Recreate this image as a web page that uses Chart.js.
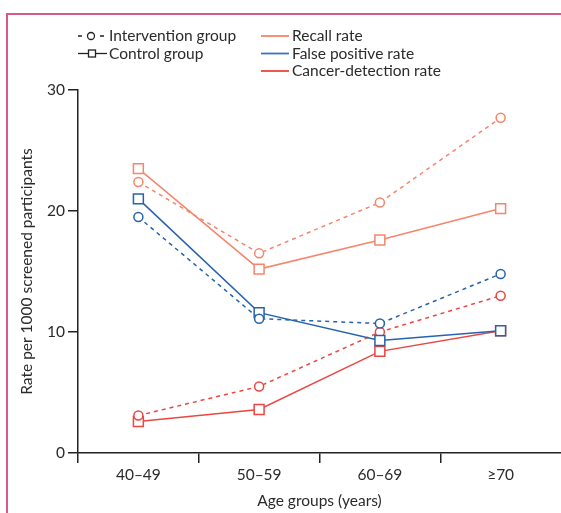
<!DOCTYPE html>
<html>
<head>
<meta charset="utf-8">
<script src="https://cdn.jsdelivr.net/npm/chart.js@4.4.1/dist/chart.umd.min.js"></script>
<style>
html,body{margin:0;padding:0;background:#fff;overflow:hidden;}
#wrap{position:relative;width:561px;height:513px;}
</style>
</head>
<body>
<div id="wrap"><canvas id="c" width="561" height="513"></canvas></div>
<script>
const categories = ['40–49', '50–59', '60–69', '≥70'];
const recallIntervention = [22.4, 16.5, 20.7, 27.7];
const recallControl = [23.5, 15.2, 17.6, 20.2];
const fpIntervention = [19.5, 11.1, 10.7, 14.8];
const fpControl = [21.0, 11.6, 9.3, 10.1];
const cdIntervention = [3.1, 5.5, 10.0, 13.0];
const cdControl = [2.6, 3.6, 8.4, 10.1];
const yTicks = [0, 10, 20, 30];
const groupLabels = ['Intervention group', 'Control group'];
const rateLabels = ['Recall rate', 'False positive rate', 'Cancer-detection rate'];
const xTitle = 'Age groups (years)';
const yTitle = 'Rate per 1000 screened participants';

const C_RECALL = '#f5856b';
const C_FP = '#2563ad';
const C_CD = '#eb4640';
const TXT = '#2b2b2b';
const FONT = 'Lato';

function ds(label, data, color, intervention) {
  return {
    label, data,
    borderColor: color,
    backgroundColor: '#ffffff',
    borderWidth: 1.5,
    borderDash: intervention ? [4, 4] : [],
    pointStyle: intervention ? 'circle' : 'rect',
    pointRadius: intervention ? 4.5 : 7,
    pointHoverRadius: intervention ? 4.5 : 7,
    pointBorderWidth: 1.5,
    pointBorderColor: color,
    pointBackgroundColor: '#ffffff',
    tension: 0,
    clip: false
  };
}

const frameLegend = {
  id: 'frameLegend',
  beforeDraw(chart) {
    const ctx = chart.ctx;
    ctx.save();
    ctx.fillStyle = '#fff';
    ctx.fillRect(0, 0, chart.width, chart.height);
    ctx.fillStyle = '#d8587f';
    ctx.fillRect(6, 13, chart.width - 6, 2);
    ctx.fillRect(6, 13, 2, chart.height - 13);
    ctx.restore();
  },
  afterDraw(chart) {
    const ctx = chart.ctx;
    ctx.save();
    ctx.font = '15.5px ' + FONT;
    ctx.fillStyle = TXT;
    ctx.textBaseline = 'middle';
    ctx.textAlign = 'left';
    ctx.strokeStyle = '#222';
    ctx.lineWidth = 1.3;
    ctx.beginPath();
    ctx.moveTo(78, 36); ctx.lineTo(82, 36);
    ctx.moveTo(100, 36); ctx.lineTo(104, 36);
    ctx.stroke();
    ctx.beginPath();
    ctx.arc(91, 36, 3.5, 0, Math.PI * 2);
    ctx.fillStyle = '#fff'; ctx.fill(); ctx.stroke();
    ctx.beginPath();
    ctx.moveTo(78, 53.5); ctx.lineTo(107, 53.5);
    ctx.stroke();
    ctx.fillStyle = '#fff';
    ctx.fillRect(88.5, 50, 7, 7);
    ctx.strokeRect(88.5, 50, 7, 7);
    ctx.fillStyle = TXT;
    ctx.fillText(groupLabels[0], 109, 36);
    ctx.fillText(groupLabels[1], 109, 53.5);
    const cols = [C_RECALL, '#3a74bd', C_CD];
    const ys = [36, 53.5, 71];
    ctx.lineWidth = 1.8;
    for (let i = 0; i < 3; i++) {
      ctx.strokeStyle = cols[i];
      ctx.beginPath();
      ctx.moveTo(261, ys[i]); ctx.lineTo(289, ys[i]);
      ctx.stroke();
      ctx.fillStyle = TXT;
      ctx.fillText(rateLabels[i], 292, ys[i]);
    }
    ctx.restore();
  }
};

new Chart(document.getElementById('c'), {
  type: 'line',
  data: {
    labels: categories,
    datasets: [
      ds('Recall rate – intervention', recallIntervention, C_RECALL, true),
      ds('Recall rate – control', recallControl, C_RECALL, false),
      ds('False positive rate – intervention', fpIntervention, C_FP, true),
      ds('False positive rate – control', fpControl, C_FP, false),
      ds('Cancer-detection rate – intervention', cdIntervention, C_CD, true),
      ds('Cancer-detection rate – control', cdControl, C_CD, false)
    ]
  },
  options: {
    responsive: false,
    animation: false,
    devicePixelRatio: 1,
    layout: { autoPadding: false, padding: { top: 90, left: 0, right: 0, bottom: 0 } },
    plugins: { legend: { display: false }, tooltip: { enabled: false }, title: { display: false } },
    scales: {
      x: {
        type: 'category',
        offset: true,
        grid: {
          offset: true,
          drawOnChartArea: false,
          drawTicks: true,
          tickLength: 10,
          lineWidth: 1.5,
          color: (c) => (c.type === 'tick' ? '#222' : 'rgba(0,0,0,0)')
        },
        border: { display: true, color: '#222', width: 1.5 },
        ticks: { color: TXT, font: { family: FONT, size: 15.5 }, padding: 3, maxRotation: 0 },
        title: { display: true, text: xTitle, color: TXT, font: { family: FONT, size: 15.5 }, padding: { top: 0, bottom: 3 } },
        afterFit: (s) => { s.height = 60; s.paddingLeft = 0; s.paddingRight = 0; }
      },
      y: {
        min: 0, max: 30,
        afterBuildTicks: (s) => { s.ticks = yTicks.map(v => ({ value: v })); },
        grid: { drawOnChartArea: false, drawTicks: true, tickLength: 10, lineWidth: 1.5, color: '#222' },
        border: { display: true, color: '#222', width: 1.5 },
        ticks: { color: TXT, font: { family: FONT, size: 15.5 }, padding: 3 },
        title: { display: true, text: yTitle, color: TXT, font: { family: FONT, size: 15.5 }, padding: { top: 18, bottom: 0 } },
        afterFit: (s) => { s.width = 78; s.paddingTop = 0; s.paddingBottom = 0; }
      }
    }
  },
  plugins: [frameLegend]
});
</script>
</body>
</html>
